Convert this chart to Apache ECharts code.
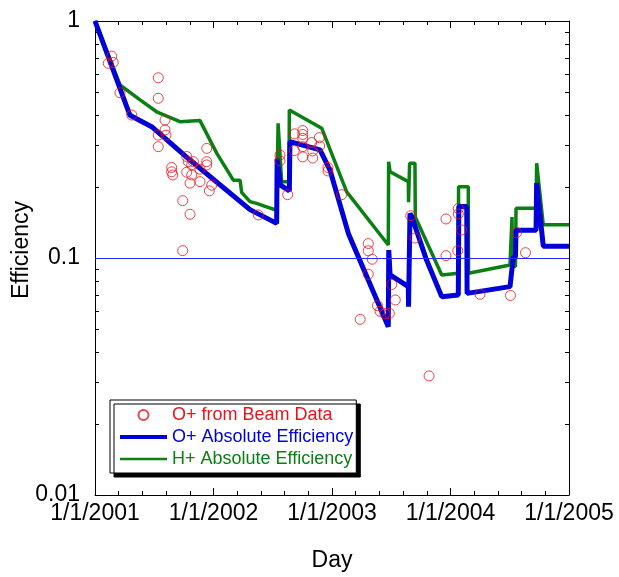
<!DOCTYPE html>
<html>
<head>
<meta charset="utf-8">
<script src="https://cdn.jsdelivr.net/npm/echarts@6/dist/echarts.min.js"></script>
<style>
  html, body { margin: 0; padding: 0; background: #fff; }
  #chart { width: 619px; height: 577px; }
</style>
</head>
<body>
<div id="chart"></div>
<script>
// Days are stored as decimal years (2001.5 = early July 2001).

// O+ efficiency measured from beam data
const beamDay = [
  2001.112, 2001.141, 2001.154, 2001.211, 2001.310, 2001.534, 2001.534, 2001.534, 2001.534,
  2001.591, 2001.591, 2001.599, 2001.647, 2001.647, 2001.656, 2001.740, 2001.740, 2001.774,
  2001.774, 2001.787, 2001.802, 2001.802, 2001.816, 2001.816, 2001.830, 2001.886, 2001.886,
  2001.943, 2001.943, 2001.943, 2001.965, 2001.985, 2002.378, 2002.561, 2002.561, 2002.626,
  2002.682, 2002.684, 2002.753, 2002.753, 2002.753, 2002.753, 2002.753, 2002.829, 2002.837,
  2002.837, 2002.893, 2002.896, 2002.966, 2002.966, 2003.082, 2003.238, 2003.306, 2003.306,
  2003.306, 2003.340, 2003.384, 2003.405, 2003.447, 2003.484, 2003.504, 2003.534, 2003.664,
  2003.702, 2003.819, 2003.962, 2003.962, 2004.061, 2004.066, 2004.066, 2004.094, 2004.249,
  2004.506, 2004.558, 2004.633
];
const beamEff = [
  0.663, 0.711, 0.669, 0.498, 0.401, 0.576, 0.472, 0.330, 0.295,
  0.382, 0.347, 0.330, 0.241, 0.231, 0.224, 0.1745, 0.1074, 0.268,
  0.230, 0.255, 0.207, 0.153, 0.247, 0.224, 0.255, 0.237, 0.210,
  0.290, 0.255, 0.247, 0.192, 0.203, 0.152, 0.272, 0.257, 0.185,
  0.284, 0.334, 0.345, 0.332, 0.320, 0.295, 0.267, 0.307, 0.283,
  0.264, 0.322, 0.297, 0.241, 0.233, 0.185, 0.0551, 0.1151, 0.1073,
  0.0854, 0.0988, 0.0629, 0.0596, 0.0582, 0.0584, 0.0773, 0.0665, 0.1509,
  0.1214, 0.0318, 0.1461, 0.1023, 0.1073, 0.1618, 0.1534, 0.1313, 0.0703,
  0.0695, 0.1279, 0.1053
];

// O+ absolute efficiency
const oAbsDay = [
  2001.000, 2001.295, 2001.478, 2001.802, 2002.308, 2002.533, 2002.537, 2002.565, 2002.640,
  2002.645, 2002.899, 2002.983, 2003.138, 2003.475, 2003.479, 2003.490, 2003.602, 2003.644,
  2003.646, 2003.655, 2003.658, 2003.672, 2003.798, 2003.926, 2004.066, 2004.070, 2004.137,
  2004.140, 2004.502, 2004.516, 2004.530, 2004.548, 2004.553, 2004.722, 2004.727, 2004.783,
  2005.000
];
const oAbsEff = [
  1.0, 0.400, 0.358, 0.259, 0.160, 0.140, 0.262, 0.203, 0.192,
  0.310, 0.286, 0.235, 0.127, 0.0513, 0.108, 0.0848, 0.0782, 0.0757,
  0.0623, 0.0623, 0.154, 0.150, 0.098, 0.0687, 0.0698, 0.165, 0.165,
  0.0709, 0.0757, 0.0757, 0.101, 0.101, 0.131, 0.131, 0.207, 0.112,
  0.112
];

// H+ absolute efficiency
const hAbsDay = [
  2001.000, 2001.211, 2001.380, 2001.520, 2001.717, 2001.886, 2002.027, 2002.167, 2002.224,
  2002.238, 2002.308, 2002.364, 2002.435, 2002.533, 2002.545, 2002.575, 2002.637, 2002.640,
  2002.913, 2003.124, 2003.475, 2003.478, 2003.490, 2003.644, 2003.646, 2003.655, 2003.700,
  2003.703, 2003.926, 2004.066, 2004.068, 2004.150, 2004.152, 2004.502, 2004.516, 2004.519,
  2004.523, 2004.548, 2004.553, 2004.722, 2004.727, 2004.783, 2005.000
];
const hAbsEff = [
  1.0, 0.537, 0.465, 0.414, 0.376, 0.380, 0.277, 0.213, 0.213,
  0.189, 0.173, 0.170, 0.165, 0.159, 0.370, 0.210, 0.210, 0.421,
  0.353, 0.190, 0.1135, 0.255, 0.231, 0.210, 0.172, 0.251, 0.251,
  0.149, 0.0848, 0.0862, 0.200, 0.200, 0.0862, 0.0934, 0.0919, 0.149,
  0.092, 0.092, 0.162, 0.162, 0.251, 0.138, 0.138
];

// Axis settings
const dayMin = 2001, dayMax = 2005;
const effMin = 0.01, effMax = 1;
const effThreshold = 0.1;
// Minor log ticks (2..9 in each decade)
const effMinorTicks = [0.02, 0.03, 0.04, 0.05, 0.06, 0.07, 0.08, 0.09,
                       0.2, 0.3, 0.4, 0.5, 0.6, 0.7, 0.8, 0.9];

const zip = (xs, ys) => xs.map((x, i) => [x, ys[i]]);

const FONT = '"Liberation Sans", Arial, Helvetica, sans-serif';
const RED = '#e8141c', BLUE = '#0000d8', GREEN = '#0a7f12';

const xAxisBase = {
  type: 'value', min: dayMin, max: dayMax, interval: 1,
  axisLine: { show: true, onZero: false, lineStyle: { color: '#000', width: 1 } },
  axisTick: { show: true, inside: true, length: 7, lineStyle: { color: '#000' } },
  minorTick: { show: true, splitNumber: 5, length: 4, lineStyle: { color: '#000' } },
  splitLine: { show: false }, minorSplitLine: { show: false }
};
const yAxisBase = {
  type: 'log', logBase: 10, min: effMin, max: effMax,
  axisLine: { show: true, onZero: false, lineStyle: { color: '#000', width: 1 } },
  axisTick: { show: true, inside: true, length: 7, lineStyle: { color: '#000' } },
  splitLine: { show: false }
};

const chart = echarts.init(document.getElementById('chart'), null, { renderer: 'canvas' });
chart.setOption({
  animation: false,
  backgroundColor: '#fff',
  textStyle: { fontFamily: FONT },
  grid: { left: 95, right: 50, top: 21, bottom: 82, containLabel: false, outerBoundsMode: 'none' },
  xAxis: [
    Object.assign({}, xAxisBase, {
      position: 'bottom',
      name: 'Day', nameLocation: 'middle', nameGap: 54, nameMoveOverlap: false,
      nameTextStyle: { color: '#000', fontSize: 23, fontFamily: FONT },
      axisLabel: { show: true, color: '#000', fontSize: 23, fontFamily: FONT, margin: 7,
                   formatter: v => '1/1/' + v }
    }),
    Object.assign({}, xAxisBase, { position: 'top', axisLabel: { show: false } })
  ],
  yAxis: [
    Object.assign({}, yAxisBase, {
      position: 'left',
      name: 'Efficiency', nameLocation: 'middle', nameGap: 62, nameMoveOverlap: false,
      nameTextStyle: { color: '#000', fontSize: 23, fontFamily: FONT, padding: [0, 0, 0, 16] },
      axisLabel: { show: true, color: '#000', fontSize: 23, fontFamily: FONT, margin: 15 }
    }),
    Object.assign({}, yAxisBase, { position: 'right', axisLabel: { show: false } })
  ],
  legend: {
    orient: 'vertical', left: 110, top: 400,
    padding: [6, 3, 5, 8],
    itemWidth: 47, itemHeight: 10, itemGap: 4,
    backgroundColor: '#fff', borderColor: '#000', borderWidth: 1,
    shadowColor: '#000', shadowOffsetX: 4, shadowOffsetY: 4, shadowBlur: 0,
    textStyle: { fontSize: 18, fontFamily: FONT },
    data: [
      { name: 'O+ from Beam Data', textStyle: { color: RED } },
      { name: 'O+ Absolute Efficiency', textStyle: { color: BLUE },
        itemStyle: { opacity: 0 }, lineStyle: { color: BLUE, width: 4 } },
      { name: 'H+ Absolute Efficiency', textStyle: { color: GREEN },
        itemStyle: { opacity: 0 }, lineStyle: { color: GREEN, width: 2.5 } }
    ]
  },
  series: [
    {
      // minor ticks of the logarithmic efficiency axis, on both sides of the frame
      type: 'custom', silent: true, z: 1,
      data: effMinorTicks.map(v => [dayMin, v]),
      renderItem: (params, api) => {
        const v = api.value(1);
        const l = api.coord([dayMin, v]);
        const r = api.coord([dayMax, v]);
        const y = Math.round(l[1]) + 0.5;
        return {
          type: 'group',
          children: [
            { type: 'line', shape: { x1: l[0], y1: y, x2: l[0] + 4, y2: y }, style: { stroke: '#000', lineWidth: 1 } },
            { type: 'line', shape: { x1: r[0] - 4, y1: y, x2: r[0], y2: y }, style: { stroke: '#000', lineWidth: 1 } }
          ]
        };
      }
    },
    {
      name: 'H+ Absolute Efficiency', type: 'line', z: 2,
      data: zip(hAbsDay, hAbsEff),
      showSymbol: false, symbol: 'none',
      lineStyle: { color: GREEN, width: 3.5 },
      itemStyle: { color: GREEN },
      markLine: {
        silent: true, symbol: 'none', label: { show: false },
        lineStyle: { color: '#2a2aff', width: 1, type: 'solid' },
        data: [{ yAxis: effThreshold }]
      }
    },
    {
      name: 'O+ Absolute Efficiency', type: 'line', z: 3,
      data: zip(oAbsDay, oAbsEff),
      showSymbol: false, symbol: 'none',
      lineStyle: { color: BLUE, width: 5 },
      itemStyle: { color: BLUE }
    },
    {
      name: 'O+ from Beam Data', type: 'scatter', z: 4,
      data: zip(beamDay, beamEff),
      symbol: 'circle', symbolSize: 10,
      itemStyle: { color: 'rgba(0,0,0,0)', borderColor: RED, borderWidth: 1 }
    }
  ]
});
</script>
</body>
</html>
